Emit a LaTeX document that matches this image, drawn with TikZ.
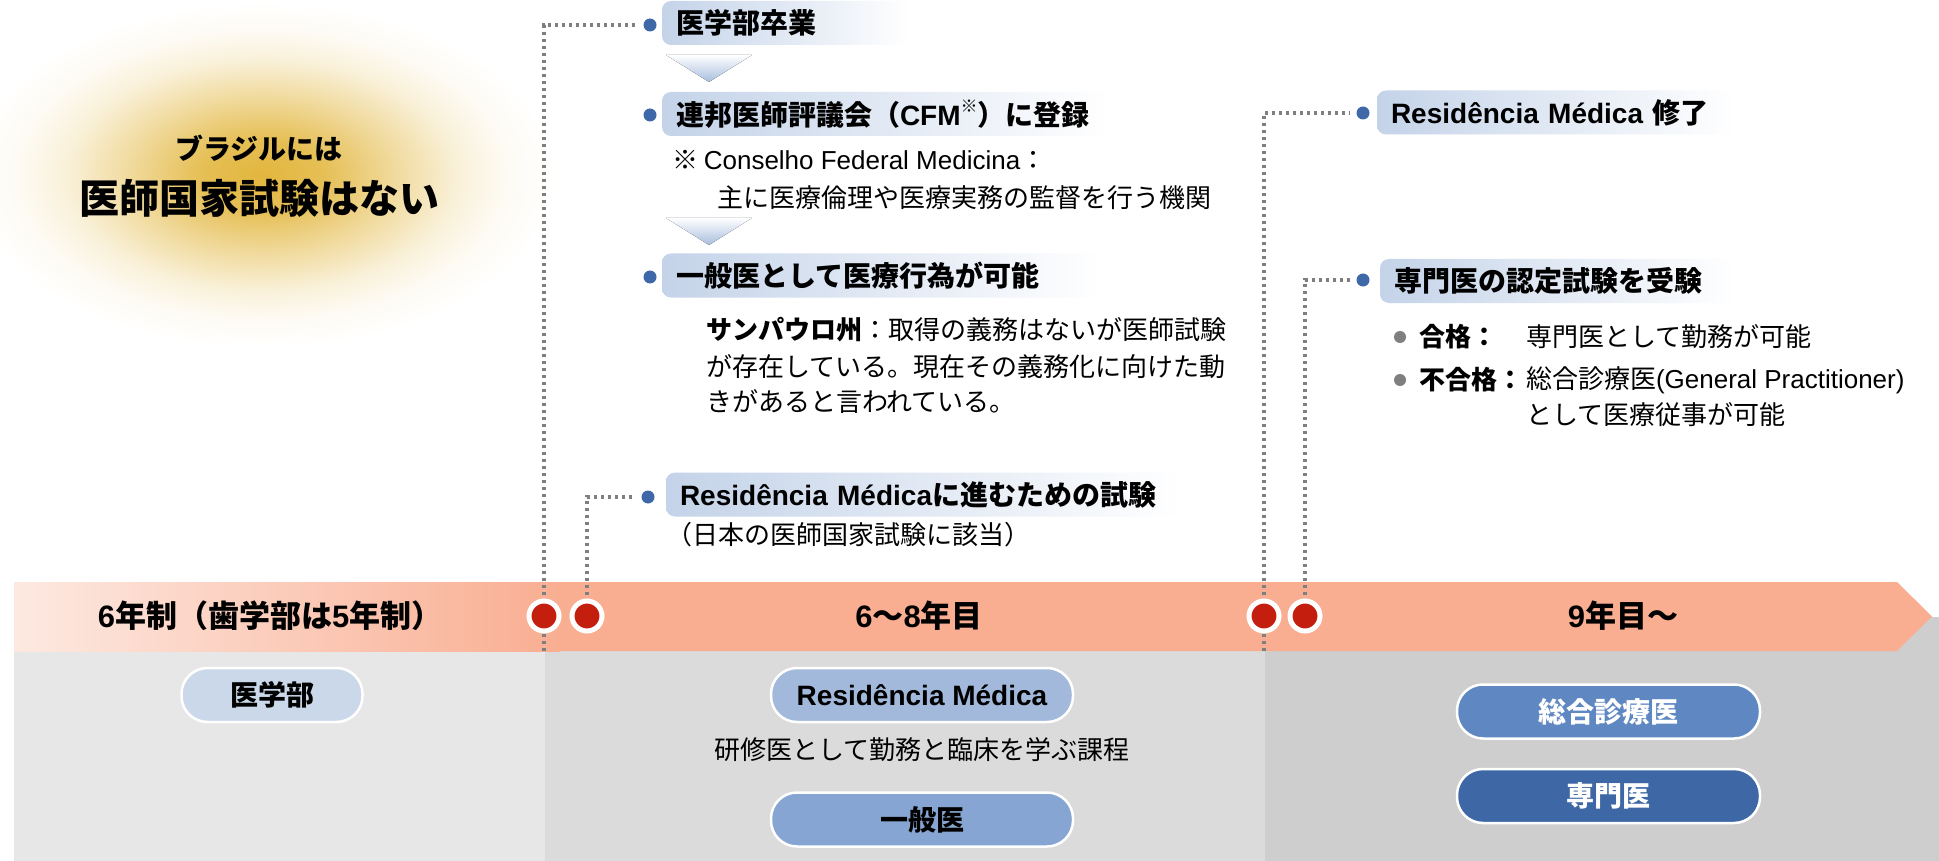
\documentclass[tikz,border=0pt]{standalone}
\usepackage{fontspec}
\setmainfont{Noto Sans CJK JP}
\newfontfamily\lat{Liberation Sans}
\definecolor{bandc}{RGB}{249,174,146}
\definecolor{bandl}{RGB}{253,233,225}
\definecolor{greyA}{RGB}{231,231,231}
\definecolor{greyB}{RGB}{219,219,219}
\definecolor{greyC}{RGB}{206,206,206}
\definecolor{dotred}{RGB}{196,30,14}
\definecolor{bulletblue}{RGB}{62,104,168}
\definecolor{boxblue}{RGB}{196,211,233}
\definecolor{chevblue}{RGB}{168,189,222}
\definecolor{pillA}{RGB}{203,216,234}
\definecolor{pillB}{RGB}{163,185,220}
\definecolor{pillC}{RGB}{134,165,210}
\definecolor{pillD}{RGB}{95,136,195}
\definecolor{pillE}{RGB}{61,104,165}
\definecolor{gold}{RGB}{226,182,62}
\definecolor{linegrey}{RGB}{127,127,127}
\pgfdeclareradialshading{glow}{\pgfpoint{0bp}{0bp}}{color(0bp)=(gold); color(5bp)=(gold!88!white); color(11bp)=(gold!50!white); color(16bp)=(gold!20!white); color(20bp)=(gold!6!white); color(24bp)=(white); color(50bp)=(white)}
\begin{document}
\begin{tikzpicture}[x=1pt,y=-1pt,
  every node/.style={inner sep=0pt, outer sep=0pt},
  hb/.style={font=\fontsize{28}{32}\selectfont\bfseries},
  tx/.style={font=\fontsize{26}{30}\selectfont, anchor=west},
  txb/.style={font=\fontsize{26}{30}\selectfont\bfseries, anchor=west},
  bandtxt/.style={font=\fontsize{31}{35}\selectfont\bfseries},
  tab/.style={anchor=west, rounded corners=9pt, left color=boxblue, right color=white,
    minimum height=44pt, inner xsep=14pt, align=left, font=\fontsize{28}{32}\selectfont\bfseries},
  bullet/.style={circle, fill=bulletblue, minimum size=13pt},
  gbullet/.style={circle, fill=linegrey, minimum size=12pt},
  reddot/.style={circle, fill=dotred, draw=white, line width=5pt, minimum size=30pt},
  dotline/.style={draw=linegrey, line width=3.2pt, dash pattern=on 3.2pt off 3.8pt, shorten >=7pt},
  pill/.style={rounded corners=26pt, draw=white, line width=2.5pt, minimum height=54pt,
    font=\fontsize{28}{32}\selectfont\bfseries},
  chev/.style={top color=white, bottom color=chevblue}
]
\useasboundingbox (0,0) rectangle (1939,861);
\fill[white] (0,0) rectangle (1939,861);
% glow
\shade[shading=glow] (262,175) ellipse [x radius=305, y radius=180];
\node[hb] (g1) at (259,148) {ブラジルには};
\node[font=\fontsize{40}{44}\selectfont\bfseries] (g2) at (259,198) {医師国家試験はない};
% grey areas
\fill[greyA] (14,617) rectangle (545,861);
\fill[greyB] (545,617) rectangle (1265,861);
\fill[greyC] (1265,617) rectangle (1939,861);
% band
\fill[bandc] (14,582) -- (1897,582) -- (1932,616.5) -- (1897,651) -- (14,651) -- cycle;
\shade[left color=bandl, right color=bandc] (14,582) rectangle (560,651);
\node[bandtxt] (l1) at (270,616) {{\lat 6}年制（歯学部は{\lat 5}年制）};
\node[bandtxt] (l2) at (919,616) {{\lat 6}〜{\lat 8}年目};
\node[bandtxt] (l3) at (1623,616) {{\lat 9}年目〜};
% chevrons
\fill[chev] (666,55) -- (752,55) -- (709,82) -- cycle;
\fill[chev] (666,218) -- (752,218) -- (709,245) -- cycle;
% tabs
\node[tab, text width=220pt] (t1) at (662,23) {医学部卒業};
\node[tab, text width=420pt] (t2) at (662,114) {連邦医師評議会（{\lat CFM}\raisebox{0.45em}{\fontsize{17}{17}\selectfont ※}）に登録};
\node[tab, text width=410pt] (t3) at (662,275.5) {一般医として医療行為が可能};
\node[tab, text width=486pt] (t4) at (666,494.5) {{\lat Residência Médica}に進むための試験};
\node[tab, text width=330pt] (t5) at (1377,112.5) {{\lat Residência Médica} 修了};
\node[tab, text width=327pt] (t6) at (1380,281) {専門医の認定試験を受験};
% bullets
\node[bullet] (b1) at (650,25) {};
\node[bullet] (b2) at (650,115) {};
\node[bullet] (b3) at (650,277) {};
\node[bullet] (b4) at (648,497) {};
\node[bullet] (b5) at (1363,113) {};
\node[bullet] (b6) at (1363,280) {};
% notes
\node[tx] (n1) at (672,160) {※ {\lat Conselho Federal Medicina}：};
\node[tx] (n2) at (717,198) {主に医療倫理や医療実務の監督を行う機関};
\node[tx] (s1) at (706,330) {{\bfseries サンパウロ州}：取得の義務はないが医師試験};
\node[tx] (s2) at (706,367) {が存在している。現在その義務化に向けた動};
\node[tx] (s3) at (706,402) {きがあると言われている。};
\node[tx] (j1) at (666,535) {（日本の医師国家試験に該当）};
\node[gbullet] (gb1) at (1400,337) {};
\node[gbullet] (gb2) at (1400,380) {};
\node[txb] (r1) at (1419,337) {合格：};
\node[txb] (r2) at (1419,380) {不合格：};
\node[tx] (r3) at (1526,337) {専門医として勤務が可能};
\node[tx] (r4) at (1526,380) {総合診療医{\lat (General Practitioner)}};
\node[tx] (r5) at (1526,415) {として医療従事が可能};
% dots and connectors
\coordinate (d1b) at (544,651);
\coordinate (d3b) at (1264,651);
\coordinate (d2c) at (587,616);
\coordinate (d4c) at (1305,616);
\draw[dotline] (d1b) |- (b1.west);
\draw[dotline] (d2c) |- (b4.west);
\draw[dotline] (d3b) |- (b5.west);
\draw[dotline] (d4c) |- (b6.west);
\node[reddot] (d1) at (544,616) {};
\node[reddot] (d2) at (d2c) {};
\node[reddot] (d3) at (1264,616) {};
\node[reddot] (d4) at (d4c) {};
% pills
\node[pill, fill=pillA, minimum width=181pt] (p1) at (272,695) {医学部};
\node[pill, fill=pillB, minimum width=302pt] (p2) at (922,695) {{\lat Residência Médica}};
\node[font=\fontsize{26}{30}\selectfont] (p2t) at (922,750) {研修医として勤務と臨床を学ぶ課程};
\node[pill, fill=pillC, minimum width=302pt] (p3) at (922,819.5) {一般医};
\node[pill, fill=pillD, minimum width=303pt, text=white] (p4) at (1608.5,711.5) {総合診療医};
\node[pill, fill=pillE, minimum width=303pt, text=white] (p5) at (1608.5,796) {専門医};
\end{tikzpicture}
\end{document}
